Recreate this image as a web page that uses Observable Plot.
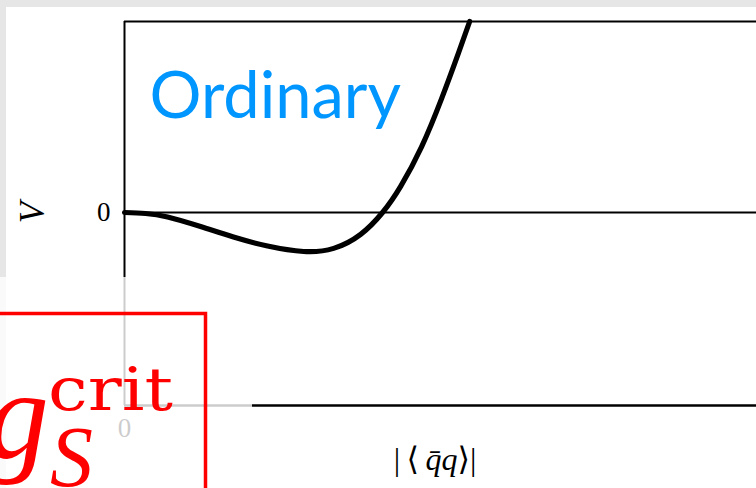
<!DOCTYPE html>
<html>
<head>
<meta charset="utf-8">
<script src="https://cdn.jsdelivr.net/npm/d3@7"></script>
<script src="https://cdn.jsdelivr.net/npm/@observablehq/plot@0.6"></script>
<style>
  html, body { margin: 0; padding: 0; background: #fff; }
  #fig { position: relative; width: 756px; height: 488px; overflow: hidden; background: #fff; }
  .layer { position: absolute; }
</style>
</head>
<body>
<div id="fig"></div>
<script>
// Effective potential V against the condensate |<q̄q>| (arbitrary units)
const condensate = [0, 0.116, 0.238, 0.42, 0.602, 0.79, 0.989, 1.155, 1.304, 1.425, 1.525, 1.641, 1.751, 1.845, 1.906];
const potential  = [0, -0.026, -0.115, -0.36, -0.63, -0.86, -1.0, -0.92, -0.56, 0, 0.67, 1.69, 2.92, 4.10, 4.90];

const xDomain = [0, 3.49];
const vDomain = [-1.667, 4.9];
const xTicks = [0];
const vTicks = [0];
const phaseLabel = "Ordinary";
const couplingLabel = { base: "g", sup: "crit", sub: "S" };

const curve = condensate.map((x, i) => ({x, v: potential[i]}));
const serif = "'Liberation Serif', 'DejaVu Serif', serif";
const fmt = d3.format("d");

const fig = document.getElementById("fig");

// window chrome strips
for (const s of [
  {left: 0, top: 0, width: 756, height: 7},
  {left: 0, top: 0, width: 6, height: 488}
]) {
  const d = document.createElement("div");
  d.className = "layer";
  Object.assign(d.style, {left: s.left + "px", top: s.top + "px", width: s.width + "px", height: s.height + "px", background: "#e6e6e6"});
  fig.appendChild(d);
}

// lower panel (partly hidden under the upper one)
const lower = Plot.plot({
  width: 756, height: 488,
  marginLeft: 124, marginRight: 0, marginTop: 277, marginBottom: 83,
  style: {background: "transparent", overflow: "visible"},
  x: {domain: xDomain, axis: null},
  y: {domain: [0, 1], axis: null},
  marks: [
    Plot.ruleX([0], {stroke: "#000", strokeWidth: 2}),
    Plot.ruleY([0], {stroke: "#000", strokeWidth: 2.4}),
    Plot.axisX(xTicks, {tickSize: 0, tickPadding: 12, tickFormat: fmt, fontSize: 27, fontFamily: serif, fill: "#000", label: null})
  ]
});
lower.classList.add("layer");
lower.style.left = "0px"; lower.style.top = "0px";
fig.appendChild(lower);

// x-axis title |<q̄q>|
const xt = d3.select(lower).append("text")
  .attr("x", 435).attr("y", 470)
  .attr("text-anchor", "middle")
  .attr("font-family", serif).attr("font-size", 32).attr("fill", "#000");
xt.append("tspan").text("|\u2009\u27E8\u2009");
xt.append("tspan").attr("font-style", "italic").text("q\u0304q");
xt.append("tspan").text("\u27E9|");

// upper panel
const upper = Plot.plot({
  width: 750, height: 270,
  marginLeft: 118, marginRight: 0, marginTop: 14, marginBottom: 0,
  style: {background: "#fff", overflow: "visible"},
  x: {domain: xDomain, axis: null},
  y: {domain: vDomain},
  marks: [
    Plot.ruleY([vDomain[1]], {stroke: "#000", strokeWidth: 2}),
    Plot.ruleY([0], {stroke: "#000", strokeWidth: 1.8}),
    Plot.ruleX([0], {stroke: "#000", strokeWidth: 2}),
    Plot.axisY(vTicks, {tickSize: 0, tickPadding: 14, tickFormat: fmt, fontSize: 27, fontFamily: serif, fill: "#000", label: null}),
    Plot.text([{x: 0, v: 0}], {x: "x", y: "v", text: () => "V", rotate: -90, dx: -81, lineAnchor: "bottom", textAnchor: "middle", fontSize: 35, fontStyle: "italic", fontFamily: serif, fill: "#000"}),
    Plot.line(curve, {x: "x", y: "v", curve: "natural", stroke: "#000", strokeWidth: 5.2, strokeLinecap: "round", strokeLinejoin: "round"}),
    Plot.text([phaseLabel], {frameAnchor: "top-left", textAnchor: "start", lineAnchor: "top", dx: 25, dy: 50, fontSize: 65, fontFamily: "Lato, 'Open Sans', sans-serif", fill: "#0096ff"})
  ]
});
upper.classList.add("layer");
upper.style.left = "6px"; upper.style.top = "7px";
fig.appendChild(upper);

// pale veil over the lower-left corner
const veil = document.createElement("div");
veil.className = "layer";
Object.assign(veil.style, {left: "0px", top: "277px", width: "252px", height: "211px", background: "rgba(255,255,255,0.8)"});
fig.appendChild(veil);

// red boxed coupling label g_S^crit
const ann = d3.create("svg").attr("width", 756).attr("height", 488)
  .attr("class", "layer").style("left", "0px").style("top", "0px").style("overflow", "visible");
ann.append("rect").attr("x", -20).attr("y", 313.5).attr("width", 225.5).attr("height", 260)
  .attr("fill", "none").attr("stroke", "#ff0000").attr("stroke-width", 3.5);
ann.append("text").attr("x", -14).attr("y", 458).attr("font-family", serif).attr("font-style", "italic")
  .attr("font-size", 126).attr("fill", "#ff0000").text(couplingLabel.base);
ann.append("text").attr("x", 48).attr("y", 410).attr("font-family", "'DejaVu Serif', serif")
  .attr("font-size", 60).attr("fill", "#ff0000")
  .attr("textLength", 125).attr("lengthAdjust", "spacingAndGlyphs").text(couplingLabel.sup);
ann.append("text").attr("x", 50).attr("y", 486).attr("font-family", serif).attr("font-style", "italic")
  .attr("font-size", 86).attr("fill", "#ff0000").text(couplingLabel.sub);
fig.appendChild(ann.node());
</script>
</body>
</html>
